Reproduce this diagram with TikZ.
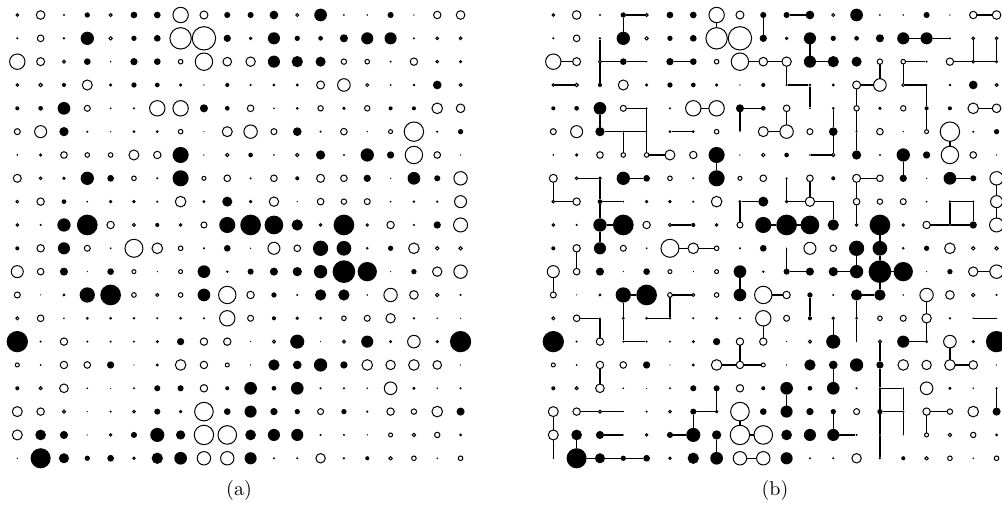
\documentclass[tikz,border=0pt]{standalone}
\tikzset{
  dotf/.style={circle, fill=black, draw=none, inner sep=0pt, outer sep=0pt},
  doto/.style={circle, fill=white, draw=black, line width=0.5pt, inner sep=0pt, outer sep=0pt},
  conn/.style={draw=black, line width=0.6pt},
  caplabel/.style={font=\fontsize{10}{12}\selectfont, inner sep=0pt}
}
\newcommand\griddata{%
{-1.3,-4.3,0.7,2.3,-1.5,3,3,-7.7,-4,2.7,2.7,4,-1.5,6,0.7,0.6,2.7,0.4,-3.7,-4.3},%
{0.8,-3.3,1,6.3,-1.7,2.3,3,-10.7,-11.7,3.3,-1.2,5.7,2.3,2,3.7,5.7,5.7,0.8,-1.3,-1.3},%
{-7.7,-4,-1.5,3,0.5,3.3,3,-2.3,-8.7,-4.3,-4.7,5.7,5.3,4.7,-2.7,-2.3,0.8,-3.7,-1.3,-1},%
{-1.3,-1.7,1.7,-5,1.3,2.3,2,1.5,0.4,1.7,0.8,1.2,1.2,-4,-6.3,-1.5,0.6,1,4,-1.5},%
{1.7,2,6,-3,0.6,0.8,-7.7,-7.7,3.7,2,-3.3,0.6,1.1,-2.7,1.5,-2.7,1.7,1.7,-5.3,-4.3},%
{-3,-6,4.3,0.8,0.4,1.2,1.2,-2.3,0.3,-5,-6.7,-3,4,0.8,-3.3,0.4,-2,-9.7,0.8,2.3},%
{0.6,1.5,-3.3,-2.3,-2.3,-5,-3.7,7.7,0.4,-1.7,2,0.6,-1.7,4.3,0.8,6.3,3.3,-8.7,-3.3,0.4},%
{-4,-1.3,1.5,6.3,3,-2.3,0.8,7.7,-2,-3.3,0.8,-3.3,1.7,-4,-3.3,3.3,0.4,6,2.7,-6.7},%
{-1.3,-3.7,2,0.6,1.5,1.5,0.8,-5.3,1.3,4.7,1.5,-4.7,0.3,-3.3,-2.7,-3,0.6,1,0.8,-6},%
{-1.3,0.8,6.3,10,-3.7,-1.5,1.7,-1.2,-3,7.7,10,9,5.3,-1.2,10,-1.2,-3.7,0.8,3.3,-7},%
{1.7,-3.7,5.7,-3,0.6,-9,-5.3,-2.3,0.8,3,0.4,-6,-3.3,7.3,7,1,2.3,-5.3,-1.7,-1.7},%
{-6,-3.3,3.7,0.3,3,-2,0.3,-2,6,1,2.7,3.7,4.3,6.3,11,9.3,0.3,2.3,-4.7,-6.7},%
{-3,0.3,1.2,7.3,10,-2.3,-1.5,-2.3,6,-8.7,-3.7,2.3,0.8,5.3,5.3,0.6,-6.7,-4.3,-1.7,0.8},%
{-1.5,-3.3,0.6,1.2,1.2,1,0.8,1.2,0.8,-7.7,-3,1.7,1.5,1.2,-2.3,-3,-4.7,1,0.6,0.3},%
{10.3,0.8,-3.7,0.8,0.8,0.8,1.3,3.3,-3.7,-3.7,0.3,-1.5,6.7,0.3,-1.5,5.7,1.3,-6.3,1.3,10.3},%
{-2,0.6,-3.7,-3.3,3.3,0.3,1.3,-5.3,-3.7,-2,0.4,5.3,4,6.3,3.3,-5.3,-4.7,-5.3,-4.3,0.3},%
{1.7,-1.5,-4.3,0.6,0.3,0.8,2.7,2.7,-3.7,1.7,6,2,6,0.8,0.8,0.6,-6.3,1.3,0.5,0.8},%
{-5,-3.7,-1.5,0.3,0.8,-1.3,2.7,1.5,-9.3,3,5.7,3.3,2.3,-3,2.3,0.8,-3.7,-2.7,-5.3,3.7},%
{-5,5,3.7,0.3,-1.2,2.7,6.7,4.3,-9.7,-9.3,5,5.7,5.7,0.8,0.8,0.4,-2,-1.7,-2.7,1.2},%
{0.4,9.7,4.7,2.3,3,-1.2,5.3,6,-6.7,-6.7,5.7,0.8,0.8,-4.7,0.9,1.7,-1.7,-2.3,0.6,-2.3}%
}
\newcommand\drawdotgrid[2]{%
  \foreach \rowlist [count=\j from 0] in \griddata {%
    \foreach \v [count=\k from 0] in \rowlist {%
      \ifdim \v pt<0pt
        \pgfmathsetmacro\dd{abs(\v)}%
        \node[doto, minimum size=\dd pt] (#1-\j-\k) at ({#2+17.3+23.33*\k},{15+23.33*\j}) {};%
      \else
        \pgfmathsetmacro\dd{\v+0.35}%
        \node[dotf, minimum size=\dd pt] (#1-\j-\k) at ({#2+17.3+23.33*\k},{15+23.33*\j}) {};%
      \fi
    }%
  }%
}
\begin{document}
\begin{tikzpicture}[x=0.5pt, y=-0.5pt]
\useasboundingbox (0,0) rectangle (1002,514);
% panel (a)
\drawdotgrid{a}{0}
% panel (b)
\drawdotgrid{b}{536}
% horizontal connectors in (b)
\foreach \rr/\cc in {0/3,0/10,0/18,1/15,1/16,2/0,2/2,2/3,2/5,2/8,2/9,2/11,2/15,2/17,2/18,3/0,3/10,3/13,3/15,4/3,4/6,4/8,4/18,5/2,5/3,5/5,5/9,6/4,6/11,7/1,7/3,7/13,7/17,8/0,8/2,8/8,8/10,8/11,8/17,9/2,9/5,9/9,9/10,9/16,9/17,10/5,10/6,11/10,11/12,11/14,11/18,12/3,12/5,12/9,12/13,13/1,13/4,13/18,14/3,14/15,15/7,15/8,15/17,16/14,17/1,17/2,17/6,17/14,17/16,18/2,18/5,18/8,18/12,19/1,19/2,19/3,19/8} {%
  \pgfmathtruncatemacro\nc{\cc+1}%
  \draw[conn] (b-\rr-\cc) -- (b-\rr-\nc);
}
% vertical connectors in (b)
\foreach \rr/\cc in {0/3,0/7,0/9,1/2,1/11,1/18,1/19,2/2,2/10,2/14,2/15,3/11,3/13,3/16,4/2,4/4,4/8,4/10,4/12,4/13,4/16,5/3,5/4,5/12,5/13,5/17,6/7,6/15,7/0,7/2,7/10,7/11,7/13,7/19,8/2,8/8,8/12,8/13,8/17,8/18,8/19,9/2,9/14,10/1,10/10,10/13,10/14,11/0,11/8,11/14,12/3,12/5,12/11,12/13,12/16,13/2,13/3,13/9,13/12,13/13,13/16,14/8,14/14,14/17,15/2,15/12,15/14,16/7,16/10,16/14,16/15,16/19,17/0,17/6,17/8,17/12,17/14,17/15,17/16,18/0,18/1,18/7,18/14} {%
  \pgfmathtruncatemacro\nr{\rr+1}%
  \draw[conn] (b-\rr-\cc) -- (b-\nr-\cc);
}
\node[caplabel] (capa) at (239,490) {(a)};
\node[caplabel] (capb) at (775,490) {(b)};
\end{tikzpicture}
\end{document}
